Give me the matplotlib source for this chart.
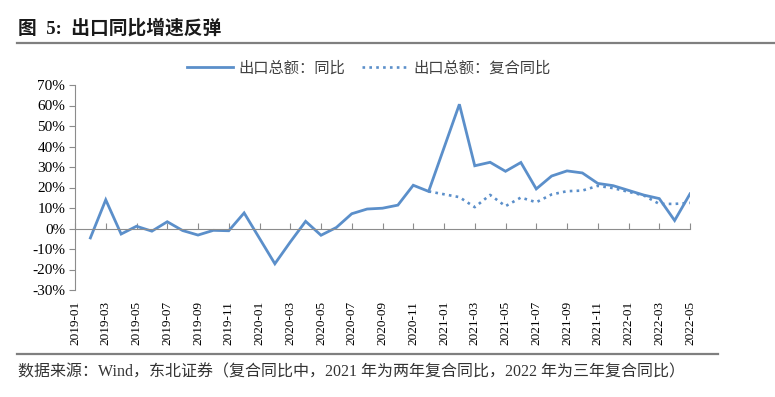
import numpy as np
import pandas as pd
import matplotlib
matplotlib.use("Agg")
import matplotlib.pyplot as plt
from matplotlib.lines import Line2D

# monthly labels 2019-01 .. 2022-05 (January values are merged into February)
months = pd.date_range("2019-01", "2022-05", freq="MS").strftime("%Y-%m").tolist()

yoy = [None, -4.6, 14.0, -2.7, 1.1, -1.3, 3.3, -1.0, -3.2, -0.9, -1.1, 7.6,
       None, -17.2, -6.6, 3.5, -3.3, 0.5, 7.2, 9.5, 9.9, 11.4, 21.1, 18.1,
       None, 60.6, 30.6, 32.3, 27.9, 32.2, 19.3, 25.6, 28.1, 27.1, 22.0, 20.9,
       None, 16.3, 14.6, 3.9, 16.9]

compound = [None] * 23 + [18.1,
       None, 15.3, 10.4, 16.4, 10.9, 15.1, 12.8, 16.6, 18.2, 18.5, 20.8, 19.7,
       None, 16.1, 12.0, 12.0, 12.5]

series_names = ["出口总额：同比", "出口总额：复合同比"]
title = "图  5:  出口同比增速反弹"
source = "数据来源：Wind，东北证券（复合同比中，2021 年为两年复合同比，2022 年为三年复合同比）"

yticks = np.arange(-30, 71, 10)

color = "#5B8FCA"
cjk = ["Noto Sans CJK SC", "DejaVu Sans"]
serif = ["Liberation Serif", "DejaVu Serif"]
mixed = ["Liberation Serif", "Noto Sans CJK SC", "DejaVu Sans"]

fig = plt.figure(figsize=(7.75, 3.97), dpi=100)
ax = fig.add_axes([75 / 775, 1 - 290 / 397, 615 / 775, 205 / 397])

x = np.arange(len(months))
s1 = pd.Series(yoy, index=x, dtype=float).dropna()
s2 = pd.Series(compound, index=x, dtype=float).dropna()

ax.plot(s1.index, s1.values, color=color, lw=2.0, solid_joinstyle="miter")
ax.plot(s2.index, s2.values, color=color, lw=1.9, linestyle=(0, (1, 1.6)))

ax.set_xlim(0, len(months) - 1)
ax.set_ylim(-30, 70)
ax.set_yticks(yticks)
ax.set_yticklabels([f"{v}%" for v in yticks], family=serif, fontsize=11)

axis_color = "#8C8C8C"
for side in ["top", "right"]:
    ax.spines[side].set_visible(False)
ax.spines["left"].set_color(axis_color)
ax.spines["bottom"].set_color(axis_color)
ax.spines["bottom"].set_position(("data", 0))
ax.tick_params(axis="y", direction="out", length=4, color=axis_color, pad=3)

tick_idx = x[::2]
ax.set_xticks(tick_idx)
ax.tick_params(axis="x", direction="in", length=4, color=axis_color, labelbottom=False)

sec = ax.secondary_xaxis(0.0)
sec.set_xticks(tick_idx)
sec.set_xticklabels([months[i] for i in tick_idx], rotation=90, family=serif, fontsize=9.5)
sec.tick_params(length=0, pad=8)
sec.spines["bottom"].set_visible(False)

handles = [Line2D([], [], color=color, lw=2.0),
           Line2D([], [], color=color, lw=1.9, linestyle=(0, (1, 1.6)))]
leg = fig.legend(handles, series_names, loc="center", bbox_to_anchor=(369 / 775, 1 - 68 / 397),
                 ncol=2, frameon=False, handlelength=3.0, handletextpad=0.35,
                 columnspacing=1.1, prop={"family": cjk, "size": 11})
for t in leg.get_texts():
    t.set_color("#404040")

fig.text(18 / 775, 1 - 28 / 397, title, family=mixed, fontsize=13.5, fontweight="bold",
         va="center", ha="left", color="#1a1a1a")
fig.add_artist(Line2D([17 / 775, 1.0], [1 - 43 / 397] * 2, color="#7F7F7F", lw=1.6))
fig.add_artist(Line2D([17 / 775, 718 / 775], [1 - 354 / 397] * 2, color="#7F7F7F", lw=1.6))
fig.text(18 / 775, 1 - 372 / 397, source, family=mixed, fontsize=11.5, va="center", ha="left",
         color="#333333")

fig.savefig("out.png", dpi=100)
